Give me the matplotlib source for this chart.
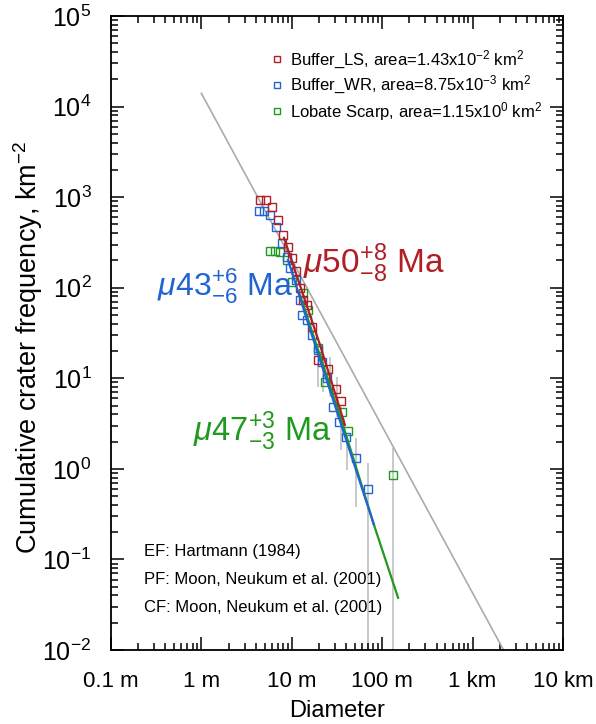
import numpy as np
import matplotlib.pyplot as plt
from matplotlib.lines import Line2D
from matplotlib.ticker import FixedLocator, LogLocator, NullFormatter

plt.rcParams['font.family'] = ['Liberation Sans', 'DejaVu Sans']
plt.rcParams['mathtext.fontset'] = 'custom'
plt.rcParams['mathtext.rm'] = 'Liberation Sans'
plt.rcParams['mathtext.it'] = 'Liberation Sans:italic'
plt.rcParams['mathtext.bf'] = 'Liberation Sans:bold'

# crater counts: diameter (m), cumulative frequency (km^-2)
ls_d = [4.45, 5.19, 6.04, 7.03, 8.0, 9.08, 10.0, 11.1, 12.3, 13.3, 14.7, 16.7, 19.5, 25.1, 30.8, 35.0]
ls_n = [931, 931, 780, 560, 383, 282, 213, 153, 100, 73, 64.5, 36.9, 16.0, 12.7, 7.64, 5.64]

wr_d = [4.34, 4.92, 5.74, 6.68, 7.79, 8.85, 9.55, 11.1, 12.3, 13.0, 14.7, 16.7, 19.5, 21.6,
        24.5, 28.6, 33.3, 39.8, 51.3, 69.7]
wr_n = [705, 705, 637, 469, 312, 219, 166, 122, 73, 50, 44, 30, 20.6, 15.2,
        10.1, 4.83, 3.30, 2.25, 1.32, 0.60]

scarp_d = [5.74, 6.52, 7.40, 8.85, 10.0, 13.3, 15.1, 19.5, 23.3, 35.9, 41.9, 131]
scarp_n = [255, 255, 248, 203, 116, 88, 57, 21.7, 9.12, 4.26, 2.62, 0.86]

# error bars (diameter, low, high)
err_d = [19.5, 21.9, 26.5, 31.6, 35.0, 40.8, 51.3, 69.7, 131]
err_lo = [8.0, 7.0, 6.2, 3.75, 1.62, 0.98, 0.38, 0.001, 0.001]
err_hi = [20.6, 17.0, 17.2, 10.4, 4.83, 2.25, 2.20, 1.16, 1.71]

# isochrons
ls_fit_d = [8.2, 12.3, 20.5, 38.7]
ls_fit_n = [355, 107, 23.4, 3.06]
wr_fit_d = [9.08, 16.7, 36.8, 81.1]
wr_fit_n = [203, 30, 2.69, 0.241]
scarp_fit_d = [12.3, 36.8, 81.1, 150]
scarp_fit_n = [83.4, 3.06, 0.241, 0.0377]

# Hartmann (1984) saturation
sat_d = [1.0, 2200]
sat_n = [1.4e4, 0.01]

x_ticks = [0.1, 1, 10, 100, 1000, 10000]
x_labels = ['0.1 m', '1 m', '10 m', '100 m', '1 km', '10 km']
y_ticks = [1e-2, 1e-1, 1, 10, 100, 1e3, 1e4, 1e5]

red = '#b01e26'
blue = '#1f64d2'
green = '#1f9a1f'

fig = plt.figure(figsize=(5.96, 7.24), dpi=100)
ax = fig.add_axes([0.1862, 0.1022, 0.7584, 0.8757])
ax.set_xscale('log')
ax.set_yscale('log')
ax.set_xlim(0.1, 10000)
ax.set_ylim(0.01, 1e5)

ax.vlines(err_d, err_lo, err_hi, color='#c0c0c0', lw=1.2, zorder=1)
ax.plot(sat_d, sat_n, color='#ababab', lw=1.2, zorder=2)

ms = 6.0
ax.plot(scarp_d, scarp_n, 's', mfc='none', mec=green, ms=ms, mew=1.0, zorder=3)
ax.plot(wr_d, wr_n, 's', mfc='none', mec=blue, ms=ms, mew=1.0, zorder=3)
ax.plot(ls_d, ls_n, 's', mfc='none', mec=red, ms=ms, mew=1.0, zorder=3)

ax.plot(scarp_fit_d, scarp_fit_n, color=green, lw=1.6, zorder=4)
ax.plot(wr_fit_d, wr_fit_n, color=blue, lw=1.6, zorder=5)
ax.plot(ls_fit_d, ls_fit_n, color=red, lw=1.6, zorder=6)

# ages
ax.text(0.323, 83, r'$\mu43^{+6}_{-6}\ \mathrm{Ma}$', color=blue, fontsize=23)
ax.text(13.3, 146, r'$\mu50^{+8}_{-8}\ \mathrm{Ma}$', color=red, fontsize=24)
ax.text(0.807, 2.0, r'$\mu47^{+3}_{-3}\ \mathrm{Ma}$', color=green, fontsize=23.5)

handles = [Line2D([], [], ls='none', marker='s', mfc='none', mec=c, ms=4.5, mew=1.0)
           for c in (red, blue, green)]
labels = [r'Buffer_LS, area=1.43x10$^{-2}$ km$^{2}$',
          r'Buffer_WR, area=8.75x10$^{-3}$ km$^{2}$',
          r'Lobate Scarp, area=1.15x10$^{0}$ km$^{2}$']
ax.legend(handles, labels, loc='upper left', bbox_to_anchor=(0.323, 0.972), frameon=False,
          fontsize=12, handlelength=0.6, handletextpad=0.5, labelspacing=0.2)

for i, s in enumerate(['EF: Hartmann (1984)', 'PF: Moon, Neukum et al. (2001)',
                       'CF: Moon, Neukum et al. (2001)']):
    ax.text(0.072, 0.156 - i * 0.0442, s, transform=ax.transAxes, fontsize=12, va='center')

ax.xaxis.set_major_locator(FixedLocator(x_ticks))
ax.set_xticklabels(x_labels)
ax.xaxis.set_minor_locator(LogLocator(base=10, subs=np.arange(2, 10), numticks=20))
ax.yaxis.set_major_locator(FixedLocator(y_ticks))
ax.set_yticklabels([r'$10^{%d}$' % round(np.log10(v)) for v in y_ticks])
ax.yaxis.set_minor_locator(LogLocator(base=10, subs=np.arange(2, 10), numticks=20))
ax.xaxis.set_minor_formatter(NullFormatter())
ax.yaxis.set_minor_formatter(NullFormatter())

ax.tick_params(which='both', direction='in', top=True, right=True, width=1.1)
ax.tick_params(axis='x', which='both', pad=15, labelsize=16)
ax.tick_params(axis='y', which='both', pad=14, labelsize=18)
ax.tick_params(which='major', length=9.5)
ax.tick_params(which='minor', length=5)
for sp in ax.spines.values():
    sp.set_linewidth(1.3)

ax.set_xlabel('Diameter', fontsize=17, labelpad=6)
ax.set_ylabel('Cumulative crater frequency, km$^{-2}$', fontsize=19.5)
ax.yaxis.set_label_coords(-0.145, 0.478)

fig.savefig('out.png', dpi=100)
